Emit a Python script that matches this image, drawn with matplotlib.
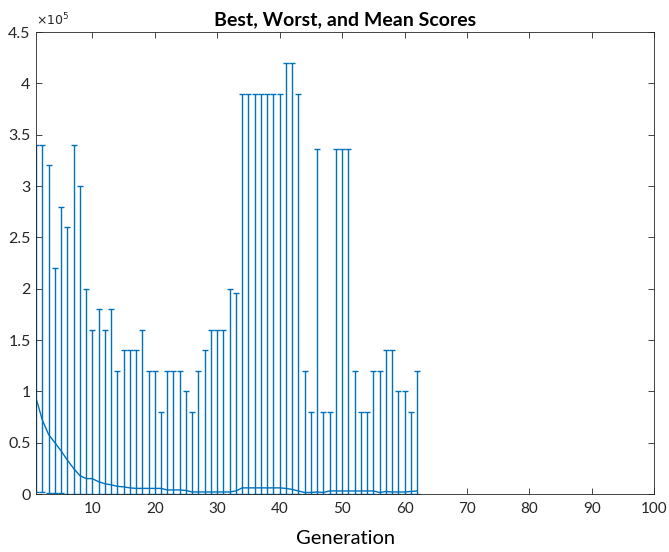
import matplotlib
matplotlib.use('Agg')
import matplotlib.pyplot as plt
from matplotlib.ticker import FuncFormatter
import numpy as np

# generation numbers and scores
generation = list(range(1, 63))

worst = [3.4, 3.4, 3.2, 2.2, 2.8, 2.6, 3.4, 3.0, 2.0, 1.6,
         1.8, 1.6, 1.8, 1.2, 1.4, 1.4, 1.4, 1.6, 1.2, 1.2,
         0.8, 1.2, 1.2, 1.2, 1.0, 0.8, 1.2, 1.4, 1.6, 1.6,
         1.6, 2.0, 1.96, 3.9, 3.9, 3.9, 3.9, 3.9, 3.9, 3.9,
         4.2, 4.2, 3.9, 1.2, 0.8, 3.36, 0.8, 0.8, 3.36, 3.36,
         3.36, 1.2, 0.8, 0.8, 1.2, 1.2, 1.4, 1.4, 1.0, 1.0,
         0.8, 1.2]

mean = [0.93, 0.72, 0.58, 0.50, 0.42, 0.33, 0.25, 0.18, 0.15, 0.15,
        0.12, 0.10, 0.09, 0.075, 0.07, 0.06, 0.055, 0.055, 0.055, 0.055,
        0.055, 0.04, 0.04, 0.04, 0.035, 0.02, 0.02, 0.02, 0.02, 0.02,
        0.02, 0.02, 0.03, 0.06, 0.06, 0.06, 0.06, 0.06, 0.06, 0.06,
        0.055, 0.045, 0.03, 0.015, 0.015, 0.02, 0.015, 0.03, 0.03, 0.03,
        0.03, 0.03, 0.03, 0.03, 0.03, 0.015, 0.025, 0.02, 0.02, 0.02,
        0.025, 0.03]

best = [0.02, 0.02, 0.008, 0.008, 0.008] + [0.002] * 57

worst = np.array(worst) * 1e5
mean = np.array(mean) * 1e5
best = np.array(best) * 1e5

blue = '#0072BD'
grey = '#262626'
plt.rcParams['font.family'] = ['Lato', 'DejaVu Sans']

fig = plt.figure(figsize=(6.69, 5.52), dpi=100)
ax = fig.add_axes([0.054, 0.105, 0.924, 0.837])

ax.errorbar(generation, mean, yerr=[mean - best, worst - mean],
            color=blue, lw=1.0, elinewidth=1.0, capsize=2.4, capthick=1.0)

ax.set_xlim(1, 100)
ax.set_ylim(0, 4.5e5)
ax.set_xticks(range(10, 101, 10))
ax.set_yticks(np.arange(0, 4.51e5, 0.5e5))
ax.yaxis.set_major_formatter(FuncFormatter(lambda v, p: '%g' % (v / 1e5)))

ax.tick_params(direction='in', length=4, width=0.6, colors=grey,
               labelsize=11.5, top=True, right=True, pad=4)
ax.tick_params(axis='x', pad=6, labelsize=11)
for s in ax.spines.values():
    s.set_color(grey)
    s.set_linewidth(0.6)

ax.text(0.0, 1.008, r'$\times10^{5}$', transform=ax.transAxes,
        fontsize=9, color=grey, ha='left', va='bottom')
ax.set_title('Best, Worst, and Mean Scores', fontsize=14, fontweight='bold', pad=5)
ax.set_xlabel('Generation', fontsize=14.5, labelpad=10)

fig.savefig('out.png', dpi=100)
